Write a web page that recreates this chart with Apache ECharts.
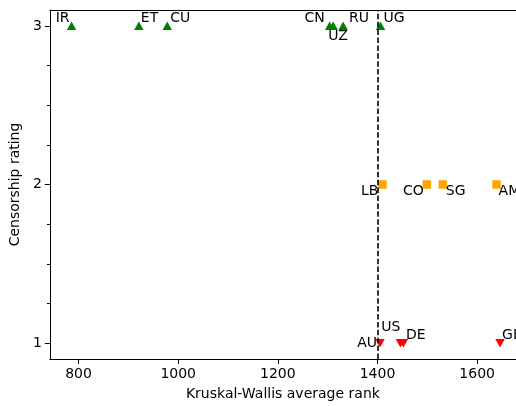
<!DOCTYPE html>
<html>
<head>
<meta charset="utf-8">
<script src="https://cdn.jsdelivr.net/npm/echarts@6/dist/echarts.min.js"></script>
<style>
    html, body { margin: 0; padding: 0; background: #fff; }
    #chart { width: 516px; height: 406px; }
</style>
</head>
<body>
<div id="chart"></div>
<script>
// rating 3
const highCodes = ['IR', 'ET', 'CU', 'CN', 'UZ', 'RU', 'UG'];
const highRanks = [786, 921, 978, 1304, 1311, 1331, 1406];
// rating 2
const midCodes = ['LB', 'CO', 'SG', 'AM'];
const midRanks = [1410, 1499, 1531, 1639];
// rating 1
const lowCodes = ['AU', 'US', 'DE', 'GB'];
const lowRanks = [1405, 1446, 1452, 1646];

const xTicks = [800, 1000, 1200, 1400, 1600];
const yTicks = [1, 2, 3];
const yMinorTicks = [1.25, 1.5, 1.75, 2.25, 2.5, 2.75];
const cutoff = 1400;

// label placement: [dx, dy, align]
const labelPos = {
    IR: [-2, -8, 'right'], ET: [2, -8, 'left'], CU: [3, -8, 'left'],
    CN: [-5, -8, 'right'], UZ: [-5, 10, 'left'], RU: [6, -8, 'left'],
    UG: [3, -8, 'left'],
    LB: [-4, 7, 'right'], CO: [-3, 7, 'right'], SG: [3, 7, 'left'], AM: [2, 7, 'left'],
    AU: [-3, 0, 'right'], US: [0, -16, 'right'], DE: [2.5, -8, 'left'], GB: [2, -8, 'left']
};

const font = 'DejaVu Sans';
const fs = 14;

const points = (codes, ranks, rating) => codes.map((c, i) => {
    const p = labelPos[c];
    return {
        name: c,
        value: [ranks[i], rating],
        label: { offset: [p[0], p[1]], align: p[2] }
    };
});

const pointLabel = {
    show: true,
    position: 'inside',
    formatter: '{b}',
    color: '#000',
    textBorderWidth: 0,
    fontFamily: font,
    fontSize: fs,
    verticalAlign: 'middle'
};

const chartDom = document.getElementById('chart');
const myChart = echarts.init(chartDom);

const option = {
    animation: false,
    grid: {
        left: 46,
        top: 10,
        right: 0,
        bottom: 43.5,
        containLabel: false
    },
    xAxis: [
        {
            type: 'value',
            min: 742.3,
            max: 1678,
            name: 'Kruskal-Wallis average rank',
            nameLocation: 'middle',
            nameGap: 28,
            nameTextStyle: { color: '#000', fontFamily: font, fontSize: fs },
            axisLine: { show: true, lineStyle: { color: '#000', width: 1 } },
            axisTick: { show: true, customValues: xTicks, length: 5, lineStyle: { color: '#000' } },
            axisLabel: { customValues: xTicks, formatter: v => String(v), color: '#000', fontFamily: font, fontSize: fs, margin: 8 },
            splitLine: { show: false }
        },
        {
            type: 'value',
            position: 'top',
            min: 742.3,
            max: 1678,
            axisLine: { show: true, lineStyle: { color: '#000', width: 1 } },
            axisTick: { show: false },
            axisLabel: { show: false },
            splitLine: { show: false }
        }
    ],
    yAxis: [
        {
            type: 'value',
            min: 0.9,
            max: 3.1,
            name: 'Censorship rating',
            nameLocation: 'middle',
            nameGap: 26,
            nameTextStyle: { color: '#000', fontFamily: font, fontSize: fs },
            axisLine: { show: true, lineStyle: { color: '#000', width: 1 } },
            axisTick: { show: true, customValues: yTicks, length: 5, lineStyle: { color: '#000' } },
            axisLabel: { customValues: yTicks, color: '#000', fontFamily: font, fontSize: fs, margin: 8 },
            splitLine: { show: false }
        },
        {
            type: 'value',
            position: 'left',
            min: 0.9,
            max: 3.1,
            axisLine: { show: false },
            axisTick: { show: true, customValues: yMinorTicks, length: 2.8, lineStyle: { color: '#000' } },
            axisLabel: { show: false },
            splitLine: { show: false }
        }
    ],
    series: [
        {
            type: 'scatter',
            symbol: 'triangle',
            symbolSize: [9.5, 8.5],
            itemStyle: { color: '#008000', opacity: 1 },
            label: pointLabel,
            data: points(highCodes, highRanks, 3),
            markLine: {
                silent: true,
                symbol: 'none',
                label: { show: false },
                lineStyle: { color: '#000', width: 1.6, type: [5.5, 2.4] },
                data: [{ xAxis: cutoff }]
            }
        },
        {
            type: 'scatter',
            symbol: 'rect',
            symbolSize: 8.5,
            itemStyle: { color: '#FFA500', opacity: 1 },
            label: pointLabel,
            data: points(midCodes, midRanks, 2)
        },
        {
            type: 'scatter',
            symbol: 'triangle',
            symbolRotate: 180,
            symbolSize: [9.5, 8.5],
            itemStyle: { color: '#FF0000', opacity: 1 },
            label: pointLabel,
            data: points(lowCodes, lowRanks, 1)
        }
    ]
};

option && myChart.setOption(option);
</script>
</body>
</html>
